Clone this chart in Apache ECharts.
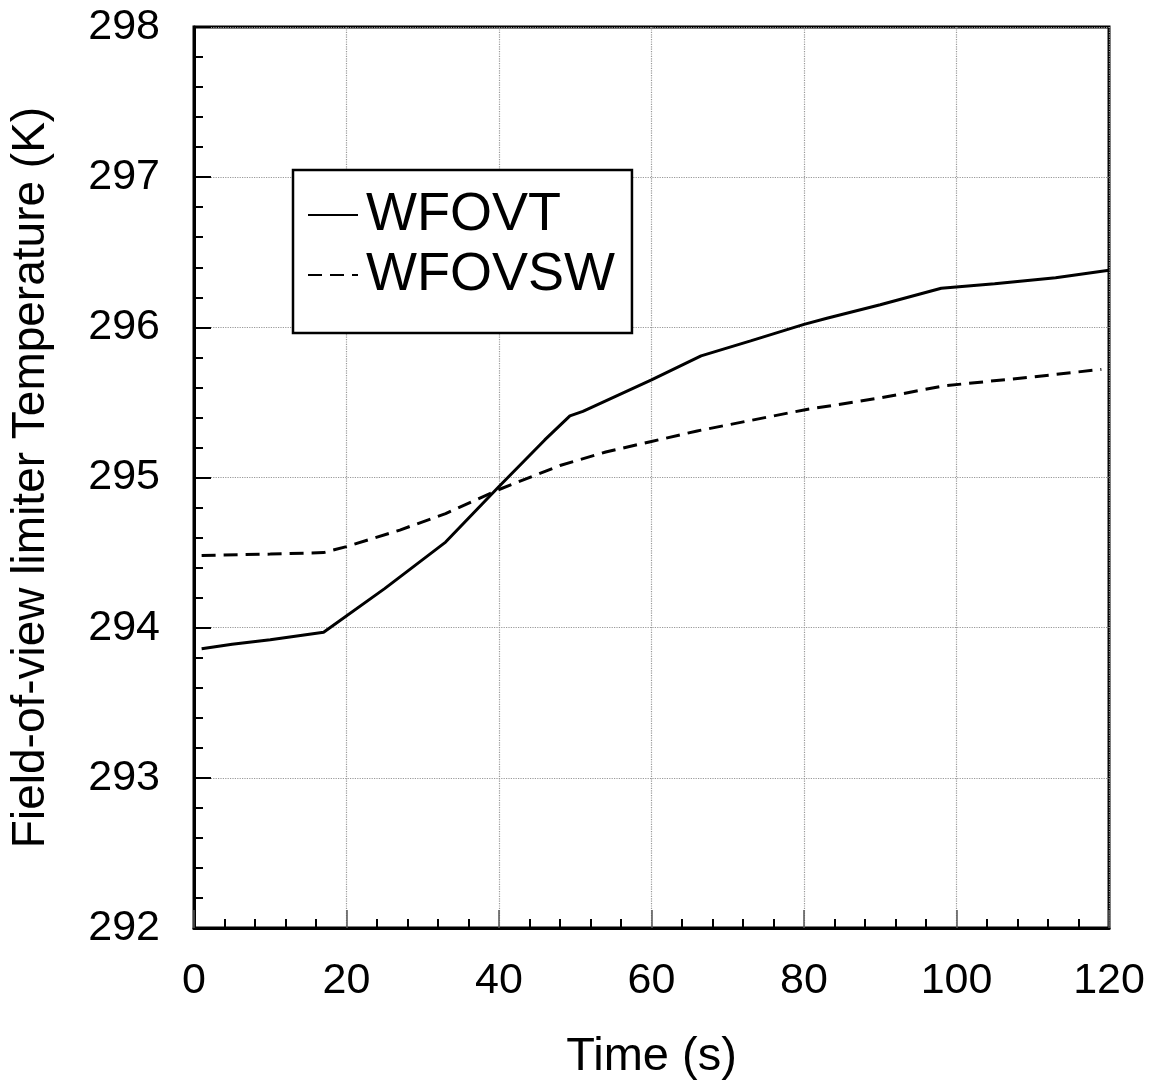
<!DOCTYPE html>
<html>
<head>
<meta charset="utf-8">
<script src="https://cdn.jsdelivr.net/npm/echarts@6/dist/echarts.min.js"></script>
<style>
html,body{margin:0;padding:0;background:#fff;}
#chart{width:1160px;height:1084px;}
</style>
</head>
<body>
<div id="chart"></div>
<script>
// Data
const seriesNames = ['WFOVT', 'WFOVSW'];
const wfovtTime = [1, 5, 10, 17, 25, 33, 40, 46, 49.3, 51, 60, 66.5, 73, 80, 83, 90, 98, 105, 113, 120];
const wfovtTemp = [293.86, 293.89, 293.92, 293.97, 294.26, 294.57, 294.94, 295.25, 295.41, 295.44, 295.65, 295.81, 295.91, 296.02, 296.06, 296.15, 296.26, 296.29, 296.33, 296.38];
const wfovswTime = [1, 10, 17, 20, 27, 33, 40, 48, 54, 60, 66, 80, 90, 98.3, 110, 119];
const wfovswTemp = [294.48, 294.49, 294.50, 294.54, 294.65, 294.76, 294.92, 295.08, 295.17, 295.24, 295.31, 295.45, 295.53, 295.61, 295.67, 295.72];
const xTicks = [0, 20, 40, 60, 80, 100, 120];
const yTicks = [292, 293, 294, 295, 296, 297, 298];

const FONT = '"Liberation Sans", Arial, Helvetica, sans-serif';
const chart = echarts.init(document.getElementById('chart'), null, {renderer: 'canvas'});

const option = {
  backgroundColor: '#ffffff',
  animation: false,
  grid: {left: 194, right: 51, top: 27, bottom: 156, outerBoundsMode: 'none', containLabel: false,
         show: true, borderColor: '#000', borderWidth: 3, backgroundColor: 'transparent'},
  legend: {
    data: seriesNames,
    orient: 'vertical',
    left: 293, top: 170,
    itemWidth: 50, itemHeight: 20, itemGap: 0,
    padding: [15, 17, 28, 14],
    borderColor: '#000', borderWidth: 2.5,
    backgroundColor: '#fff',
    itemStyle: {opacity: 0},
    textStyle: {fontFamily: FONT, fontSize: 54, color: '#000', lineHeight: 60, padding: [0, 0, 0, 3]}
  },
  xAxis: {
    type: 'value', min: xTicks[0], max: xTicks[xTicks.length - 1], interval: 20,
    name: 'Time (s)', nameLocation: 'middle', nameGap: 106,
    nameTextStyle: {fontFamily: FONT, fontSize: 47, color: '#000'},
    axisLine: {show: true, lineStyle: {color: '#000', width: 3}},
    axisTick: {show: true, inside: true, length: 18, lineStyle: {color: '#555', width: 1.5}},
    minorTick: {show: true, splitNumber: 5, length: 9, lineStyle: {color: '#000', width: 2}},
    axisLabel: {fontFamily: FONT, fontSize: 43, color: '#000', margin: 32},
    splitLine: {show: true, lineStyle: {color: '#999', type: 'dotted', width: 1.2}}
  },
  yAxis: {
    type: 'value', min: yTicks[0], max: yTicks[yTicks.length - 1], interval: 1,
    name: 'Field-of-view limiter Temperature (K)', nameLocation: 'middle', nameGap: 140, nameRotate: 90,
    nameTextStyle: {fontFamily: FONT, fontSize: 46, color: '#000'},
    axisLine: {show: true, lineStyle: {color: '#000', width: 3}},
    axisTick: {show: true, inside: true, length: 17, lineStyle: {color: '#000', width: 2}},
    minorTick: {show: true, splitNumber: 5, length: 9, lineStyle: {color: '#000', width: 2}},
    axisLabel: {fontFamily: FONT, fontSize: 43, color: '#000', margin: 34},
    splitLine: {show: true, lineStyle: {color: '#999', type: 'dotted', width: 1.2}}
  },
  series: [
    {
      name: seriesNames[0], type: 'line', symbol: 'none', smooth: false,
      data: wfovtTime.map((t, i) => [t, wfovtTemp[i]]),
      lineStyle: {color: '#000', width: 3, type: 'solid'},
      itemStyle: {color: '#000'}
    },
    {
      name: seriesNames[1], type: 'line', symbol: 'none', smooth: false,
      data: wfovswTime.map((t, i) => [t, wfovswTemp[i]]),
      lineStyle: {color: '#000', width: 3, type: [14, 8]},
      itemStyle: {color: '#000'}
    }
  ]
};
chart.setOption(option);
</script>
</body>
</html>
